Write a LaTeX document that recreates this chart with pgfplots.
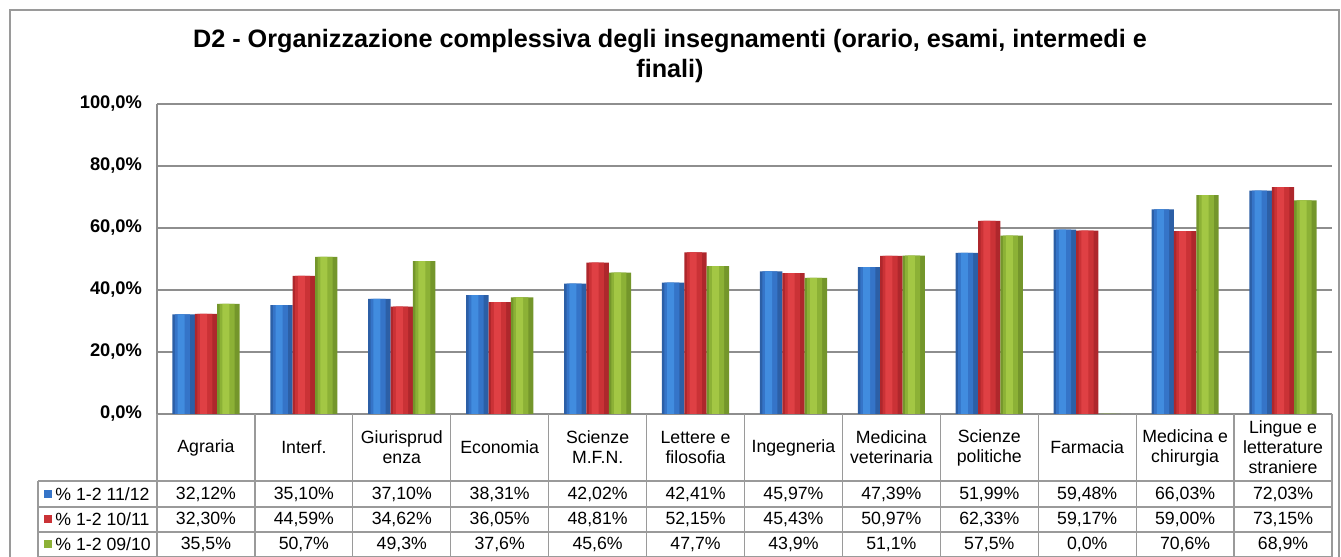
\documentclass[border=0pt]{standalone}
\usepackage{fontspec}
\setmainfont{Liberation Sans}
\usepackage{pgfplots}
\usepackage{pgfplotstable}
\pgfplotsset{compat=1.18}

\definecolor{blueD}{HTML}{2C5FA6}
\definecolor{blueM}{HTML}{3574C8}
\definecolor{blueL}{HTML}{418CDF}
\definecolor{redD}{HTML}{AE272C}
\definecolor{redM}{HTML}{CA3236}
\definecolor{redL}{HTML}{DF4044}
\definecolor{greenD}{HTML}{74962B}
\definecolor{greenM}{HTML}{8CB136}
\definecolor{greenL}{HTML}{A3C744}
\definecolor{gridgray}{HTML}{8E8E8E}
\definecolor{tabgray}{HTML}{9A9A9A}

% x = category index, a = 11/12, b = 10/11, c = 09/10
\pgfplotstableread{
x a b c
0 32.12 32.30 35.5
1 35.10 44.59 50.7
2 37.10 34.62 49.3
3 38.31 36.05 37.6
4 42.02 48.81 45.6
5 42.41 52.15 47.7
6 45.97 45.43 43.9
7 47.39 50.97 51.1
8 51.99 62.33 57.5
9 59.48 59.17 0.0
10 66.03 59.00 70.6
11 72.03 73.15 68.9
}\data

\newcommand{\tabfont}{\fontsize{8.85}{10}\selectfont}
\pgfkeys{/pgf/number format/assume math mode=true}

\begin{document}
\begin{tikzpicture}
\useasboundingbox (0pt,0pt) rectangle (670.5pt,278.5pt);
\draw[tabgray, line width=0.6pt] (5pt,-5pt) -- (5pt,273.5pt) -- (669.5pt,273.5pt) -- (669.5pt,-5pt);

\node[align=center, font=\fontsize{12.6}{15}\selectfont\bfseries] at (335pt,250.3pt)
  {D2 - Organizzazione complessiva degli insegnamenti (orario, esami, intermedi e\\finali)};

\begin{axis}[
  at={(78.5pt,71.5pt)}, anchor=south west,
  scale only axis, width=587.5pt, height=155pt,
  xmin=-0.5, xmax=11.5, ymin=0, ymax=100,
  ybar=0pt, bar width=11.2pt,
  xtick=\empty, ytick={0,20,...,100},
  ymajorgrids, grid style={gridgray, line width=0.6pt},
  axis x line*=bottom, axis y line*=left,
  axis line style={-, gridgray, line width=0.6pt},
  major tick length=0pt,
  /pgf/number format/assume math mode=true,
  yticklabel={\pgfmathprintnumber[fixed,fixed zerofill,precision=1,use comma]{\tick}\%},
  yticklabel style={font=\fontsize{9.15}{11}\selectfont\bfseries, xshift=-4pt},
]
% 11/12
\addplot[draw=none, fill=blueD, bar width=11.2pt, bar shift=-11.2pt] table[x=x, y=a] {\data};
\addplot[draw=none, fill=blueM, bar width=7.5pt, bar shift=-11.8pt] table[x=x, y=a] {\data};
\addplot[draw=none, fill=blueL, bar width=3.5pt, bar shift=-12.4pt] table[x=x, y=a] {\data};
% 10/11
\addplot[draw=none, fill=redD, bar width=11.2pt, bar shift=0pt] table[x=x, y=b] {\data};
\addplot[draw=none, fill=redM, bar width=7.5pt, bar shift=-0.6pt] table[x=x, y=b] {\data};
\addplot[draw=none, fill=redL, bar width=3.5pt, bar shift=-1.2pt] table[x=x, y=b] {\data};
% 09/10
\addplot[draw=none, fill=greenD, bar width=11.2pt, bar shift=11.2pt] table[x=x, y=c] {\data};
\addplot[draw=none, fill=greenM, bar width=7.5pt, bar shift=10.6pt] table[x=x, y=c] {\data};
\addplot[draw=none, fill=greenL, bar width=3.5pt, bar shift=10pt] table[x=x, y=c] {\data};
\end{axis}

% data table grid
\foreach \k in {0,...,12}
  \draw[tabgray, line width=0.6pt] ({78.5pt+\k*48.9583pt},71.5pt) -- ({78.5pt+\k*48.9583pt},0pt);
\foreach \y in {38,25,12.5,0.3}
  \draw[tabgray, line width=0.6pt] (19pt,\y pt) -- (666pt,\y pt);
\draw[tabgray, line width=0.6pt] (19pt,38pt) -- (19pt,0pt);

% category names
\foreach \i/\t in {0/Agraria, 1/Interf., 2/Giurisprud\\enza, 3/Economia, 4/Scienze\\M.F.N.,
  5/Lettere e\\filosofia, 6/Ingegneria, 7/Medicina\\veterinaria, 8/Scienze\\politiche,
  9/Farmacia, 10/Medicina e\\chirurgia, 11/Lingue e\\letterature\\straniere}
  \node[align=center, font=\tabfont, inner sep=0pt] at ({78.5pt+(\i+0.5)*48.9583pt},54.75pt) {\t};

% row headers with keys
\fill[blueM] (22pt,29.5pt) rectangle (26pt,33.5pt);
\fill[redM] (22pt,16.75pt) rectangle (26pt,20.75pt);
\fill[greenM] (22pt,4.25pt) rectangle (26pt,8.25pt);
\node[anchor=west, font=\tabfont, inner sep=0pt] at (27.5pt,31.5pt) {\% 1-2 11/12};
\node[anchor=west, font=\tabfont, inner sep=0pt] at (27.5pt,18.75pt) {\% 1-2 10/11};
\node[anchor=west, font=\tabfont, inner sep=0pt] at (27.5pt,6.25pt) {\% 1-2 09/10};

% values
\foreach \i in {0,...,11}{
  \pgfplotstablegetelem{\i}{a}\of\data
  \node[font=\tabfont] at ({78.5pt+(\i+0.5)*48.9583pt},31.5pt)
    {\pgfmathprintnumber[fixed,fixed zerofill,precision=2,use comma,assume math mode=true]{\pgfplotsretval}\%};
  \pgfplotstablegetelem{\i}{b}\of\data
  \node[font=\tabfont] at ({78.5pt+(\i+0.5)*48.9583pt},18.75pt)
    {\pgfmathprintnumber[fixed,fixed zerofill,precision=2,use comma,assume math mode=true]{\pgfplotsretval}\%};
  \pgfplotstablegetelem{\i}{c}\of\data
  \node[font=\tabfont] at ({78.5pt+(\i+0.5)*48.9583pt},6.25pt)
    {\pgfmathprintnumber[fixed,fixed zerofill,precision=1,use comma,assume math mode=true]{\pgfplotsretval}\%};
}
\end{tikzpicture}
\end{document}
